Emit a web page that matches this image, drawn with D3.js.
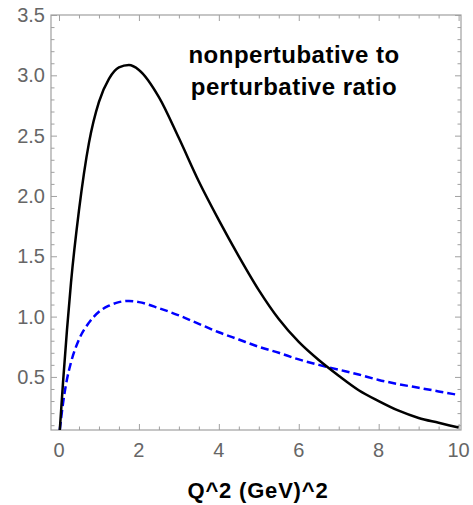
<!DOCTYPE html>
<html>
<head>
<meta charset="utf-8">
<script src="https://cdn.jsdelivr.net/npm/d3@7"></script>
<style>
  body { margin: 0; background: #fff; }
  text { font-family: "Liberation Sans", Arial, sans-serif; }
</style>
</head>
<body>
<div id="wrapper"></div>
<script>
// values
const q2 = [0.02, 0.1, 0.2, 0.3, 0.5, 0.75, 1.0, 1.25, 1.5, 1.75, 2.0, 2.5, 3.0, 3.5, 4.0, 4.5, 5.0, 5.5, 6.0, 6.5, 7.0, 7.5, 8.0, 8.5, 9.0, 9.5, 10];
const blackRatio = [0.06, 0.45, 0.89, 1.28, 1.88, 2.44, 2.78, 2.97, 3.065, 3.085, 3.045, 2.82, 2.48, 2.12, 1.8, 1.5, 1.22, 0.98, 0.79, 0.64, 0.51, 0.39, 0.30, 0.22, 0.16, 0.12, 0.08];
const blueRatio = [0.06, 0.28, 0.48, 0.62, 0.81, 0.95, 1.04, 1.09, 1.12, 1.13, 1.12, 1.07, 1.01, 0.94, 0.87, 0.81, 0.75, 0.70, 0.645, 0.60, 0.56, 0.52, 0.475, 0.44, 0.41, 0.38, 0.35];
const xTicks = [0, 2, 4, 6, 8, 10];
const yTicks = [0.5, 1.0, 1.5, 2.0, 2.5, 3.0, 3.5];
const xLabel = "Q^2 (GeV)^2";
const noteLines = ["nonpertubative to", "perturbative ratio"];

let dimensions = {
    width: 473,
    height: 505,
    margin: { top: 15, right: 12, bottom: 75, left: 51 },
}
dimensions.boundedWidth = dimensions.width - dimensions.margin.left - dimensions.margin.right;
dimensions.boundedHeight = dimensions.height - dimensions.margin.top - dimensions.margin.bottom;

const xScale = d3.scaleLinear()
    .domain([-0.2, 10.06])
    .range([0, dimensions.boundedWidth]);

const yScale = d3.scaleLinear()
    .domain([0.06, 3.5])
    .range([dimensions.boundedHeight, 0]);

const svg = d3.select("#wrapper")
    .append("svg")
    .attr("width", dimensions.width)
    .attr("height", dimensions.height)
    .append("g")
    .attr("transform", `translate(${dimensions.margin.left},${dimensions.margin.top})`);

const frameColor = "#a0a0a0";
const labelColor = "#666";

// minor ticks: every 0.5 on x, every 0.1 on y
const xMinor = d3.range(0, 10.01, 0.5);
const yMinor = d3.range(0.1, 3.51, 0.1).map(v => +v.toFixed(1));

function xAxisGen(orient) {
    return orient.scale(xScale).tickValues(xMinor).tickSizeOuter(0)
        .tickSizeInner(-3.5).tickFormat("");
}

// bottom axis
svg.append("g")
    .attr("transform", `translate(0,${dimensions.boundedHeight})`)
    .call(xAxisGen(d3.axisBottom()))
    .call(g => g.selectAll(".tick line").attr("y2", d => xTicks.includes(d) ? -6 : -3.5));
// top axis
svg.append("g")
    .call(xAxisGen(d3.axisTop()))
    .call(g => g.selectAll(".tick line").attr("y2", d => xTicks.includes(d) ? 6 : 3.5));

const isMajorY = d => yTicks.some(t => Math.abs(t - d) < 1e-6);
// left axis
svg.append("g")
    .call(d3.axisLeft(yScale).tickValues(yMinor).tickSizeOuter(0).tickFormat(""))
    .call(g => g.selectAll(".tick line").attr("x2", d => isMajorY(d) ? 6 : 3.5));
// right axis
svg.append("g")
    .attr("transform", `translate(${dimensions.boundedWidth},0)`)
    .call(d3.axisRight(yScale).tickValues(yMinor).tickSizeOuter(0).tickFormat(""))
    .call(g => g.selectAll(".tick line").attr("x2", d => isMajorY(d) ? -6 : -3.5));

svg.selectAll(".domain").remove();
svg.selectAll(".tick line").attr("stroke", frameColor);

// frame
svg.append("rect")
    .attr("width", dimensions.boundedWidth)
    .attr("height", dimensions.boundedHeight)
    .attr("fill", "none")
    .attr("stroke", frameColor)
    .attr("stroke-width", 1.2);

// tick labels
svg.append("g")
    .selectAll("text")
    .data(xTicks)
    .join("text")
    .attr("x", d => xScale(d))
    .attr("y", dimensions.boundedHeight + 27)
    .attr("text-anchor", "middle")
    .attr("fill", labelColor)
    .style("font-size", "20px")
    .text(d => d);

svg.append("g")
    .selectAll("text")
    .data(yTicks)
    .join("text")
    .attr("x", -6)
    .attr("y", d => yScale(d) + 7)
    .attr("text-anchor", "end")
    .attr("fill", labelColor)
    .style("font-size", "20px")
    .text(d => d.toFixed(1));

// axis title
svg.append("text")
    .attr("x", dimensions.boundedWidth / 2 + 2)
    .attr("y", dimensions.boundedHeight + 68)
    .attr("text-anchor", "middle")
    .style("font-size", "22px")
    .style("font-weight", "bold")
    .style("letter-spacing", "0.8px")
    .text(xLabel);

// curves
svg.append("clipPath").attr("id", "clip")
    .append("rect")
    .attr("width", dimensions.boundedWidth)
    .attr("height", dimensions.boundedHeight);

const line = (ys) => d3.line()
    .x((d, i) => xScale(q2[i]))
    .y(d => yScale(d))
    .curve(d3.curveMonotoneX)(ys);

svg.append("path")
    .attr("clip-path", "url(#clip)")
    .attr("d", line(blueRatio))
    .attr("fill", "none")
    .attr("stroke", "#0000ff")
    .attr("stroke-width", 2.5)
    .attr("stroke-dasharray", "8,4");

svg.append("path")
    .attr("clip-path", "url(#clip)")
    .attr("d", line(blackRatio))
    .attr("fill", "none")
    .attr("stroke", "#000")
    .attr("stroke-width", 2.5);

// annotation
svg.append("text")
    .attr("text-anchor", "middle")
    .style("font-size", "24px")
    .style("font-weight", "bold")
    .style("letter-spacing", "0.5px")
    .selectAll("tspan")
    .data(noteLines)
    .join("tspan")
    .attr("x", 243)
    .attr("y", (d, i) => 48 + i * 32)
    .text(d => d);
</script>
</body>
</html>
